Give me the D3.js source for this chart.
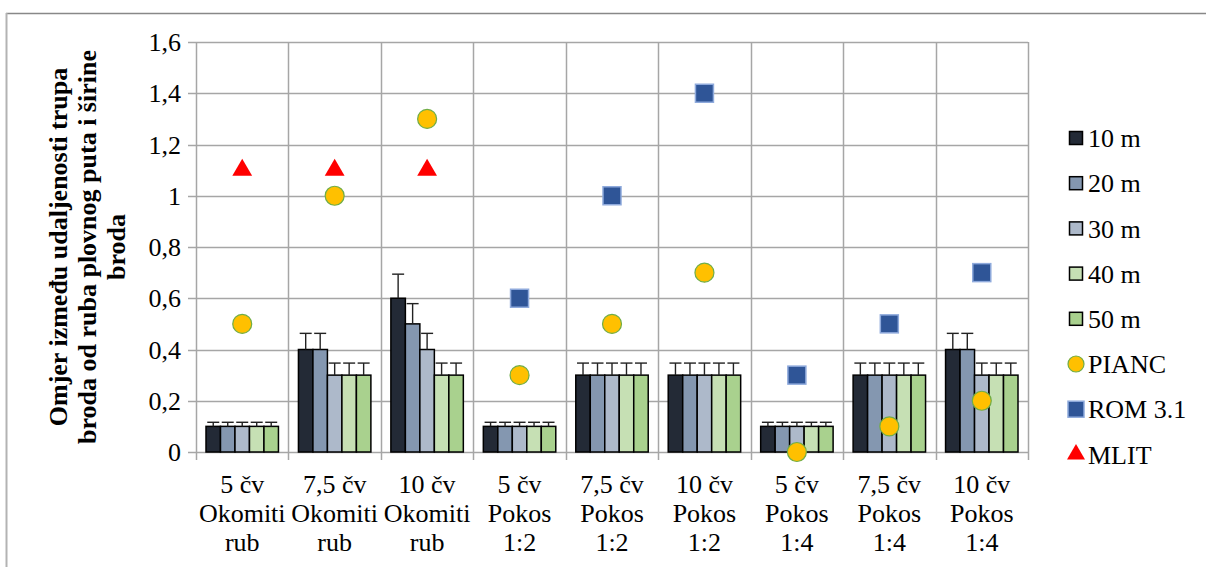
<!DOCTYPE html>
<html>
<head>
<meta charset="utf-8">
<script src="https://cdn.jsdelivr.net/npm/d3@7"></script>
<style>
  html, body { margin: 0; padding: 0; background: #fff; }
</style>
</head>
<body>
<svg id="chart" width="1206" height="567"></svg>
<script>
// ---------- data ----------
const categories = [
  ["5 čv", "Okomiti", "rub"],
  ["7,5 čv", "Okomiti", "rub"],
  ["10 čv", "Okomiti", "rub"],
  ["5 čv", "Pokos", "1:2"],
  ["7,5 čv", "Pokos", "1:2"],
  ["10 čv", "Pokos", "1:2"],
  ["5 čv", "Pokos", "1:4"],
  ["7,5 čv", "Pokos", "1:4"],
  ["10 čv", "Pokos", "1:4"]
];
const barSeries = ["10 m", "20 m", "30 m", "40 m", "50 m"];
const v10 = [0.1, 0.4, 0.6, 0.1, 0.3, 0.3, 0.1, 0.3, 0.4];
const v20 = [0.1, 0.4, 0.5, 0.1, 0.3, 0.3, 0.1, 0.3, 0.4];
const v30 = [0.1, 0.3, 0.4, 0.1, 0.3, 0.3, 0.1, 0.3, 0.3];
const v40 = [0.1, 0.3, 0.3, 0.1, 0.3, 0.3, 0.1, 0.3, 0.3];
const v50 = [0.1, 0.3, 0.3, 0.1, 0.3, 0.3, 0.1, 0.3, 0.3];
const e10 = [0.016, 0.063, 0.094, 0.016, 0.047, 0.047, 0.016, 0.047, 0.063];
const e20 = [0.016, 0.063, 0.079, 0.016, 0.047, 0.047, 0.016, 0.047, 0.063];
const e30 = [0.016, 0.047, 0.063, 0.016, 0.047, 0.047, 0.016, 0.047, 0.047];
const e40 = [0.016, 0.047, 0.047, 0.016, 0.047, 0.047, 0.016, 0.047, 0.047];
const e50 = [0.016, 0.047, 0.047, 0.016, 0.047, 0.047, 0.016, 0.047, 0.047];
const pianc = [0.5, 1.0, 1.3, 0.3, 0.5, 0.7, 0.0, 0.1, 0.2];
const rom31 = [null, null, null, 0.6, 1.0, 1.4, 0.3, 0.5, 0.7];
const mlit  = [1.1, 1.1, 1.1, null, null, null, null, null, null];
const yTicks = [0, 0.2, 0.4, 0.6, 0.8, 1, 1.2, 1.4, 1.6];
const yTickLabels = ["0", "0,2", "0,4", "0,6", "0,8", "1", "1,2", "1,4", "1,6"];
const yTitle = ["Omjer između udaljenosti trupa", "broda od ruba plovnog puta i širine", "broda"];

const barValues = [v10, v20, v30, v40, v50];
const barErrors = [e10, e20, e30, e40, e50];
const barColors = ["#232a36", "#8497b0", "#adb9ca", "#c6e0b4", "#a9d18e"];

// ---------- layout ----------
const FF = "Liberation Serif";
const svg = d3.select("#chart");
const plot = { left: 196, right: 1028, top: 42, bottom: 452 };
const FONT = 26;

const x0 = d3.scaleBand().domain(d3.range(categories.length)).range([plot.left, plot.right]).padding(0);
const x1 = d3.scaleBand().domain(barSeries).range([10, x0.bandwidth() - 10]).padding(0);
const y = d3.scaleLinear().domain([0, 1.6]).range([plot.bottom, plot.top]);

// outer frame
svg.append("line").attr("x1", 6).attr("x2", 1206).attr("y1", 13.5).attr("y2", 13.5).attr("stroke", "#888").attr("stroke-width", 1.5);
svg.append("line").attr("x1", 6.5).attr("x2", 6.5).attr("y1", 13).attr("y2", 567).attr("stroke", "#b3b3b3").attr("stroke-width", 2);

const grid = "#a6a6a6";
svg.append("g").selectAll("line").data(yTicks).join("line")
  .attr("x1", plot.left - 8).attr("x2", plot.right)
  .attr("y1", d => Math.round(y(d)) + 0.5).attr("y2", d => Math.round(y(d)) + 0.5)
  .attr("stroke", grid).attr("stroke-width", 1.5);
const bounds = d3.range(categories.length + 1).map(i => i < categories.length ? x0(i) : plot.right);
svg.append("g").selectAll("line").data(bounds).join("line")
  .attr("x1", d => Math.round(d) + 0.5).attr("x2", d => Math.round(d) + 0.5)
  .attr("y1", plot.top).attr("y2", plot.bottom + 8)
  .attr("stroke", grid).attr("stroke-width", 1.5);

// y tick labels
svg.append("g").selectAll("text").data(yTicks).join("text")
  .attr("x", plot.left - 15).attr("y", d => y(d))
  .attr("dy", "0.35em").attr("text-anchor", "end")
  .style("font-family", FF).attr("font-size", FONT).attr("fill", "#000")
  .text((d, i) => yTickLabels[i]);

// x labels
const xl = svg.append("g");
categories.forEach((lines, i) => {
  const t = xl.append("text")
    .attr("x", x0(i) + x0.bandwidth() / 2).attr("y", 493)
    .attr("text-anchor", "middle").style("font-family", FF).attr("font-size", FONT).attr("fill", "#000");
  lines.forEach((ln, j) => t.append("tspan").attr("x", x0(i) + x0.bandwidth() / 2).attr("dy", j === 0 ? 0 : 29).text(ln));
});

// y title
const yt = svg.append("text")
  .attr("transform", `translate(58, ${(plot.top + plot.bottom) / 2}) rotate(-90)`)
  .attr("text-anchor", "middle").style("font-family", FF).attr("font-size", FONT).attr("font-weight", "bold").attr("fill", "#000");
yTitle.forEach((ln, j) => yt.append("tspan").attr("x", 0).attr("dy", j === 0 ? "0.35em" : 29).text(ln));

// bars
barSeries.forEach((s, si) => {
  const g = svg.append("g");
  g.selectAll("rect").data(barValues[si]).join("rect")
    .attr("x", (d, i) => x0(i) + x1(s))
    .attr("y", d => y(d))
    .attr("width", x1.bandwidth())
    .attr("height", d => y(0) - y(d))
    .attr("fill", barColors[si]).attr("stroke", "#000").attr("stroke-width", 1.5);
  const eb = svg.append("g").attr("stroke", "#222").attr("stroke-width", 1.4);
  barValues[si].forEach((v, i) => {
    const cx = x0(i) + x1(s) + x1.bandwidth() / 2;
    const top = y(v + barErrors[si][i]);
    eb.append("line").attr("x1", cx).attr("x2", cx).attr("y1", y(v)).attr("y2", top);
    eb.append("line").attr("x1", cx - 6).attr("x2", cx + 6).attr("y1", top).attr("y2", top);
  });
});

const cxOf = i => x0(i) + x0.bandwidth() / 2;
svg.append("g").selectAll("circle").data(pianc.map((v, i) => ({ v, i })).filter(d => d.v !== null)).join("circle")
  .attr("cx", d => cxOf(d.i)).attr("cy", d => y(d.v)).attr("r", 9.5)
  .attr("fill", "#ffc000").attr("stroke", "#70ad47").attr("stroke-width", 1.2);
svg.append("g").selectAll("rect").data(rom31.map((v, i) => ({ v, i })).filter(d => d.v !== null)).join("rect")
  .attr("x", d => cxOf(d.i) - 9).attr("y", d => y(d.v) - 9).attr("width", 18).attr("height", 18)
  .attr("fill", "#2f5597").attr("stroke", "#8faadc").attr("stroke-width", 1.5);
const tri = d3.symbol().type(d3.symbolTriangle).size(170);
svg.append("g").selectAll("path").data(mlit.map((v, i) => ({ v, i })).filter(d => d.v !== null)).join("path")
  .attr("d", tri).attr("transform", d => `translate(${cxOf(d.i)}, ${y(d.v)})`)
  .attr("fill", "#ff0000");

// legend
const legendItems = barSeries.map((s, i) => ({ name: s, type: "bar", color: barColors[i] }))
  .concat([{ name: "PIANC", type: "circle" }, { name: "ROM 3.1", type: "square" }, { name: "MLIT", type: "tri" }]);
const lg = svg.append("g");
legendItems.forEach((it, i) => {
  const cy = 138 + 45.2 * i;
  const cx = 1076;
  if (it.type === "bar") {
    lg.append("rect").attr("x", cx - 6.5).attr("y", cy - 6.5).attr("width", 13).attr("height", 13)
      .attr("fill", it.color).attr("stroke", "#000").attr("stroke-width", 1.5);
  } else if (it.type === "circle") {
    lg.append("circle").attr("cx", cx).attr("cy", cy).attr("r", 8)
      .attr("fill", "#ffc000").attr("stroke", "#70ad47").attr("stroke-width", 1.2);
  } else if (it.type === "square") {
    lg.append("rect").attr("x", cx - 8).attr("y", cy - 8).attr("width", 16).attr("height", 16)
      .attr("fill", "#2f5597").attr("stroke", "#8faadc").attr("stroke-width", 1.5);
  } else {
    lg.append("path").attr("d", d3.symbol().type(d3.symbolTriangle).size(140))
      .attr("transform", `translate(${cx}, ${cy})`).attr("fill", "#ff0000");
  }
  lg.append("text").attr("x", 1088).attr("y", cy).attr("dy", "0.35em")
    .style("font-family", FF).attr("font-size", FONT).attr("fill", "#000").text(it.name);
});
</script>
</body>
</html>
